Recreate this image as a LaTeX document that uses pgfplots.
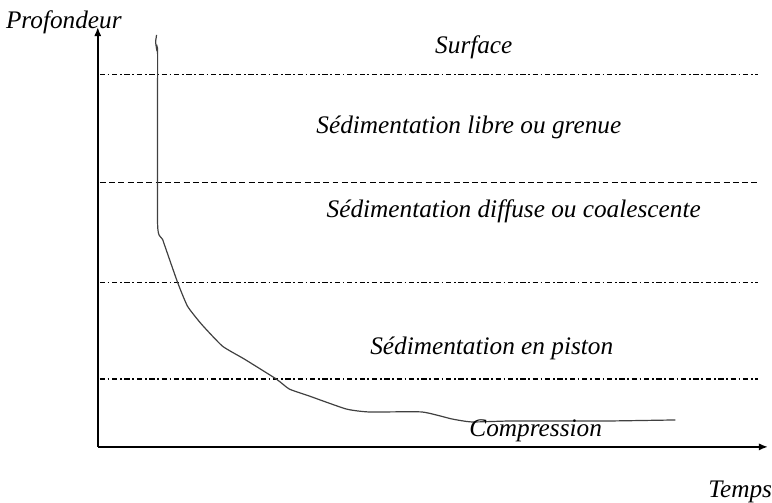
\documentclass[border=0pt]{standalone}
\usepackage{pgfplots}
\pgfplotsset{compat=1.18}
\usepackage{fontspec}
\setmainfont{Liberation Serif}
\usetikzlibrary{arrows.meta}
\tikzset{lbl/.style={font=\fontsize{19}{21}\selectfont\itshape, inner sep=0pt}}
\begin{document}
\begin{tikzpicture}
\begin{axis}[
  scale only axis,
  width=504pt, height=315.75pt,
  xmin=98, xmax=770, ymin=49, ymax=470,
  axis lines=left,
  axis line style={line width=1.4pt, -{Latex[length=7pt,width=5.5pt]}},
  xtick=\empty, ytick=\empty,
  clip=false,
]
\path (axis cs:0,0) rectangle (axis cs:772,497);
% horizontal boundaries
\addplot[black, line width=1pt, dash pattern=on 4pt off 2pt on 1.3pt off 2pt] coordinates {(100,422) (760,422)};
\addplot[black, line width=1pt, dash pattern=on 4.5pt off 2.5pt] coordinates {(100,314) (760,314)};
\addplot[black, line width=1pt, dash pattern=on 4pt off 2pt on 1.3pt off 2pt] coordinates {(100,214) (760,214)};
\addplot[black, line width=1pt, dash pattern=on 4pt off 2pt on 1.3pt off 2pt] coordinates {(100,117) (760,117)};
% settling curve
\addplot[black!75, line width=0.9pt, smooth, tension=0.3] coordinates {
(157,462) (156,455) (157,448) (158,442) (158,272) (163,257) (178,214) (188,190)
(202,172) (223,150) (245,137) (277,117) (290,107) (310,100) (347,87) (370,84)
(423,84) (453,77) (473,74) (513,75) (580,75) (613,75) (677,76)};
\node[lbl] at (axis cs:475,450) {Surface};
\node[lbl] at (axis cs:470,369) {Sédimentation libre ou grenue};
\node[lbl] at (axis cs:515,285) {Sédimentation diffuse ou coalescente};
\node[lbl] at (axis cs:493,148) {Sédimentation en piston};
\node[lbl] at (axis cs:537,65) {Compression};
\node[lbl] at (axis cs:64,475) {Profondeur};
\node[lbl] at (axis cs:742,4) {Temps};
\end{axis}
\end{tikzpicture}
\end{document}
